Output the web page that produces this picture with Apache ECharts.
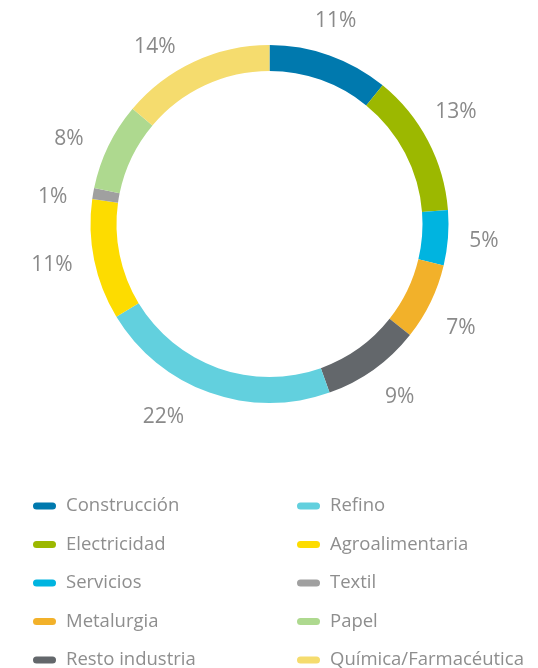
<!DOCTYPE html>
<html>
<head>
<meta charset="utf-8">
<script src="https://cdn.jsdelivr.net/npm/echarts@6/dist/echarts.min.js"></script>
<style>
  html, body { margin: 0; padding: 0; background: #fff; }
  #chart { width: 538px; height: 668px; }
</style>
</head>
<body>
<div id="chart"></div>
<script>
// 行业分布（顺时针，从顶部开始）
const sectors = ['Construcción', 'Electricidad', 'Servicios', 'Metalurgia', 'Resto industria',
  'Refino', 'Agroalimentaria', 'Textil', 'Papel', 'Química/Farmacéutica'];
const shares = [11, 13, 5, 7, 9, 22, 11, 1, 8, 14];
const colors = ['#0079ae', '#9cb800', '#00b4e0', '#f2b12a', '#63676b',
  '#62d0de', '#fddc00', '#a0a0a0', '#aed98f', '#f5dc6e'];

// 图例分两列
const legendLeft = sectors.slice(0, 5);
const legendRight = sectors.slice(5);

// 标签微调（原图标签是手动摆放的）
const labelNudge = {
  'Construcción': [-6, 0],
  'Electricidad': [-4, -12],
  'Metalurgia': [-2, 10],
  'Resto industria': [5, -2],
  'Refino': [-34, -10],
  'Agroalimentaria': [-7, -2],
  'Textil': [-5, 10],
  'Papel': [-7, 9],
  'Química/Farmacéutica': [-24, 18]
};

const chart = echarts.init(document.getElementById('chart'));

const pieData = sectors.map((name, i) => ({
  name: name,
  value: shares[i],
  itemStyle: { color: colors[i] }
}));

const labelData = sectors.map((name, i) => ({
  name: name,
  value: shares[i],
  label: { offset: labelNudge[name] || [0, 0] }
}));

const pill = 'path://M3.5,0H19.5A3.5,3.5,0,0,1,19.5,7H3.5A3.5,3.5,0,0,1,3.5,0Z';
const legendText = {
  color: '#8e8e8e',
  fontSize: 18.5,
  fontFamily: 'Open Sans',
  lineHeight: 20,
  padding: [0, 0, 0, 5]
};

const legendBase = {
  orient: 'vertical',
  top: 496,
  height: 220,
  padding: 0,
  icon: pill,
  itemWidth: 23,
  itemHeight: 7,
  itemGap: 18.5,
  textStyle: legendText
};

const option = {
  animation: false,
  color: colors,
  legend: [
    Object.assign({ data: legendLeft, left: 33 }, legendBase),
    Object.assign({ data: legendRight, left: 297 }, legendBase)
  ],
  series: [
    {
      name: 'sectores',
      type: 'pie',
      center: [269.5, 224],
      radius: [153, 179],
      startAngle: 90,
      clockwise: true,
      label: { show: false },
      labelLine: { show: false },
      itemStyle: { borderWidth: 0 },
      emphasis: { disabled: true },
      data: pieData
    },
    {
      // 透明环，仅用于放置百分比标签
      name: 'etiquetas',
      type: 'pie',
      center: [269.5, 224],
      radius: [198, 226],
      startAngle: 90,
      clockwise: true,
      silent: true,
      itemStyle: { color: 'rgba(0,0,0,0)' },
      labelLine: { show: false },
      label: {
        show: true,
        position: 'inside',
        formatter: '{c}%',
        color: '#8a8a8a',
        fontSize: 21,
        fontFamily: 'Open Sans'
      },
      emphasis: { disabled: true },
      data: labelData
    }
  ]
};

chart.setOption(option);
</script>
</body>
</html>
